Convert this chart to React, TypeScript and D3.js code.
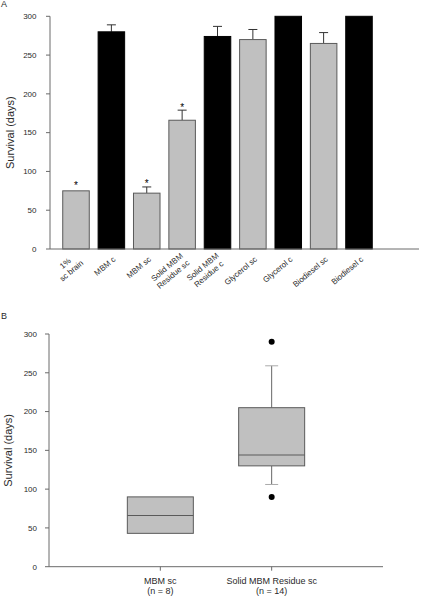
import React from "react";
import * as d3 from "d3";

// Panel A data
const categoriesA = [
  "1%\nsc brain",
  "MBM c",
  "MBM sc",
  "Solid MBM\nResidue sc",
  "Solid MBM\nResidue c",
  "Glycerol sc",
  "Glycerol c",
  "Biodiesel sc",
  "Biodiesel c",
];
const meansA = [75, 280, 72, 166, 274, 270, 300, 265, 300];
const errorsA = [0, 9, 8, 13, 13, 13, 0, 14, 0];
const groupA = ["sc", "c", "sc", "sc", "c", "sc", "c", "sc", "c"];
const starA = [true, false, true, true, false, false, false, false, false];
const yTicks = [0, 50, 100, 150, 200, 250, 300];

// Panel B data
const categoriesB = ["MBM sc\n(n = 8)", "Solid MBM Residue sc\n(n = 14)"];
const q1B = [43, 130];
const medianB = [66, 144];
const q3B = [90, 205];
const whiskerLowB: (number | null)[] = [null, 106];
const whiskerHighB: (number | null)[] = [null, 259];
const outliersB: number[][] = [[], [290, 90]];

const FONT = "Liberation Sans, Arial, Helvetica, sans-serif";
const TEXT = "#2a2a2a";
const AXIS = "#6a6a6a";
const GRAY = "#c0c0c0";
const EDGE = "#5a5a5a";

let canvasCtx: CanvasRenderingContext2D | null = null;
function textWidth(s: string, size: number) {
  if (!canvasCtx) {
    const c = document.createElement("canvas");
    canvasCtx = c.getContext("2d");
  }
  if (!canvasCtx) return s.length * size * 0.5;
  canvasCtx.font = `${size}px "Liberation Sans"`;
  const w = canvasCtx.measureText(s).width;
  return isFinite(w) && w > 0 ? w : s.length * size * 0.5;
}

function PanelA() {
  const x = d3
    .scaleBand<string>()
    .domain(categoriesA)
    .range([50, 385])
    .paddingInner(0.25)
    .paddingOuter(0.36);
  const y = d3.scaleLinear().domain([0, 300]).range([249, 16.3]);
  const bw = x.bandwidth();
  const labelSize = 8;
  const lineH = 9.5;
  const ang = -40;
  return (
    <g>
      <text x={1} y={7} fontSize={9} fontFamily={FONT} fill={TEXT}>A</text>
      <text
        transform={`translate(13.5, ${(y(0) + y(300)) / 2}) rotate(-90)`}
        textAnchor="middle"
        fontSize={11}
        fontFamily={FONT}
        fill={TEXT}
      >
        Survival (days)
      </text>
      {categoriesA.map((c, i) => {
        const x0 = x(c)!;
        const top = y(meansA[i]);
        const isC = groupA[i] === "c";
        const errTop = y(meansA[i] + errorsA[i]);
        const cx = x0 + bw / 2;
        return (
          <g key={c}>
            {errorsA[i] > 0 && (
              <g stroke="#333" strokeWidth={1}>
                <line x1={cx} x2={cx} y1={top} y2={errTop} />
                <line x1={cx - 4.5} x2={cx + 4.5} y1={errTop} y2={errTop} />
              </g>
            )}
            <rect
              x={x0}
              y={top}
              width={bw}
              height={y(0) - top}
              fill={isC ? "#000" : GRAY}
              stroke={isC ? "#000" : EDGE}
              strokeWidth={1}
            />
            {starA[i] && (
              <text
                x={cx}
                y={errTop - (errorsA[i] > 0 ? -0.5 : 2)}
                textAnchor="middle"
                fontSize={10}
                fontFamily={FONT}
                fill="#000"
              >
                *
              </text>
            )}
          </g>
        );
      })}
      {/* axes */}
      <line x1={50} x2={50} y1={y(300)} y2={y(0)} stroke={AXIS} strokeWidth={1} />
      <line x1={50} x2={419} y1={y(0)} y2={y(0)} stroke={AXIS} strokeWidth={1} />
      {yTicks.map((t) => (
        <g key={t}>
          <line x1={46} x2={50} y1={y(t)} y2={y(t)} stroke={AXIS} strokeWidth={1} />
          <text
            x={36.5}
            y={y(t)}
            dy="0.35em"
            textAnchor="end"
            fontSize={8}
            fontFamily={FONT}
            fill={TEXT}
          >
            {t}
          </text>
        </g>
      ))}
      {categoriesA.map((c) => {
        const lines = c.split("\n");
        const W = Math.max(...lines.map((l) => textWidth(l, labelSize)));
        const cx = x(c)! + bw / 2;
        const ax = cx + 3;
        const ay = 258;
        return lines.map((l, j) => (
          <text
            key={c + j}
            transform={`translate(${ax}, ${ay}) rotate(${ang}) translate(${-W / 2}, ${
              (j - (lines.length - 1) / 2) * lineH + labelSize * 0.35
            })`}
            textAnchor="middle"
            fontSize={labelSize}
            fontFamily={FONT}
            fill={TEXT}
          >
            {l}
          </text>
        ));
      })}
    </g>
  );
}

function PanelB() {
  const x = d3.scalePoint<string>().domain(categoriesB).range([49, 383]).padding(1);
  const y = d3.scaleLinear().domain([0, 300]).range([566.7, 334]);
  const boxW = 66;
  const capW = 13;
  return (
    <g>
      <text x={1} y={318.5} fontSize={9} fontFamily={FONT} fill={TEXT}>B</text>
      <text
        transform={`translate(11.5, ${(y(0) + y(300)) / 2}) rotate(-90)`}
        textAnchor="middle"
        fontSize={11}
        fontFamily={FONT}
        fill={TEXT}
      >
        Survival (days)
      </text>
      {categoriesB.map((c, i) => {
        const cx = x(c)!;
        const wl = whiskerLowB[i];
        const wh = whiskerHighB[i];
        return (
          <g key={c}>
            {wh !== null && (
              <g>
                <line x1={cx} x2={cx} y1={y(q3B[i])} y2={y(wh)} stroke="#666" />
                <line x1={cx - capW / 2} x2={cx + capW / 2} y1={y(wh)} y2={y(wh)} stroke="#aaa" />
              </g>
            )}
            {wl !== null && (
              <g>
                <line x1={cx} x2={cx} y1={y(q1B[i])} y2={y(wl)} stroke="#666" />
                <line x1={cx - capW / 2} x2={cx + capW / 2} y1={y(wl)} y2={y(wl)} stroke="#aaa" />
              </g>
            )}
            <rect
              x={cx - boxW / 2}
              y={y(q3B[i])}
              width={boxW}
              height={y(q1B[i]) - y(q3B[i])}
              fill={GRAY}
              stroke={EDGE}
              strokeWidth={1}
            />
            <line
              x1={cx - boxW / 2}
              x2={cx + boxW / 2}
              y1={y(medianB[i])}
              y2={y(medianB[i])}
              stroke={EDGE}
              strokeWidth={1}
            />
            {outliersB[i].map((o, k) => (
              <circle key={k} cx={cx} cy={y(o)} r={3} fill="#000" />
            ))}
          </g>
        );
      })}
      <line x1={49} x2={49} y1={y(300)} y2={y(0)} stroke={AXIS} strokeWidth={1} />
      <line x1={49} x2={383} y1={y(0)} y2={y(0)} stroke={AXIS} strokeWidth={1} />
      {yTicks.map((t) => (
        <g key={t}>
          <line x1={45} x2={49} y1={y(t)} y2={y(t)} stroke={AXIS} strokeWidth={1} />
          <text
            x={37}
            y={y(t)}
            dy="0.35em"
            textAnchor="end"
            fontSize={8}
            fontFamily={FONT}
            fill={TEXT}
          >
            {t}
          </text>
        </g>
      ))}
      {categoriesB.map((c) => {
        const cx = x(c)!;
        const lines = c.split("\n");
        return (
          <g key={"t" + c}>
            <line x1={cx} x2={cx} y1={y(0)} y2={y(0) + 4} stroke={AXIS} strokeWidth={1} />
            {lines.map((l, j) => (
              <text
                key={j}
                x={cx}
                y={584 + j * 10}
                textAnchor="middle"
                fontSize={9}
                fontFamily={FONT}
                fill={TEXT}
              >
                {l}
              </text>
            ))}
          </g>
        );
      })}
    </g>
  );
}

export default function App() {
  return (
    <svg
      width={421}
      height={597}
      style={{ position: "absolute", left: 0, top: 0, background: "#fff" }}
    >
      <rect x={0} y={0} width={421} height={597} fill="#fff" />
      <PanelA />
      <PanelB />
    </svg>
  );
}
